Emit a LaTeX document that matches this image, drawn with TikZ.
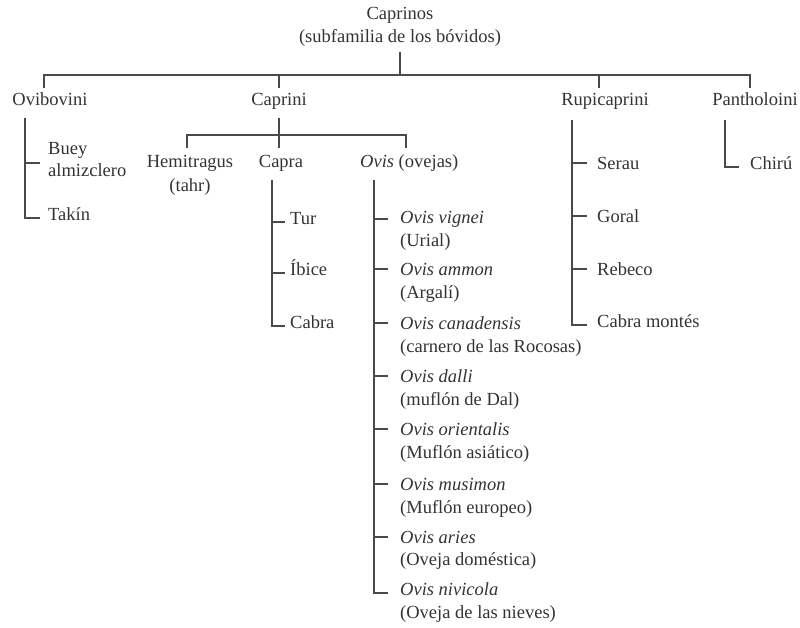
\documentclass[tikz,border=0pt]{standalone}
\usepackage{fontspec}
\setmainfont{Liberation Serif}
\definecolor{txt}{HTML}{333333}
\definecolor{lnc}{HTML}{4A4A4A}
\newcommand\myfs{\fontsize{18.5}{23}\selectfont}
\tikzset{
  lbl/.style={inner sep=0pt, anchor=mid, text=txt, font=\myfs},
  lw/.style={lbl, anchor=mid west},
  ln/.style={draw=lnc, line width=1.6pt},
}
\begin{document}
\begin{tikzpicture}[x=1pt,y=-1pt]
\useasboundingbox (0,0) rectangle (800,628);
% root
\node[lbl] (root) at (400,17) {Caprinos};
\node[lbl] (root2) at (400,40) {(subfamilia de los bóvidos)};
% level 1
\node[lbl] (ovib) at (50,103) {Ovibovini};
\node[lbl] (capr) at (279,103) {Caprini};
\node[lbl] (rupi) at (605,103) {Rupicaprini};
\node[lbl] (panth) at (755,103) {Pantholoini};
\coordinate (bar) at (400,75);
\draw[ln] (400,52) -- (bar);
\draw[ln] (44,88) -- (44,75) -- (750,75) -- (750,88);
\draw[ln] (279,75) -- (279,88);
\draw[ln] (599,75) -- (599,88);
% Ovibovini
\node[lw] (buey) at (48,152) {Buey};
\node[lw] (buey2) at (48,174) {almizclero};
\node[lw] (takin) at (48,218) {Takín};
\draw[ln] (25,118) -- (25,218) -- (40,218);
\draw[ln] (25,163) -- (40,163);
% Caprini
\draw[ln] (279,118) -- (279,148);
\draw[ln] (187,148) -- (187,135) -- (406,135) -- (406,148);
\node[lbl] (hemi) at (190,165) {Hemitragus};
\node[lbl] (hemi2) at (190,189) {(tahr)};
\node[lbl] (capra) at (281,165) {Capra};
\node[lw] (ovis) at (360,165) {\textit{Ovis} (ovejas)};
% Capra children
\node[lw] (tur) at (290,222) {Tur};
\node[lw] (ibice) at (290,273) {Íbice};
\node[lw] (cabra) at (290,326) {Cabra};
\draw[ln] (272,180) -- (272,326) -- (285,326);
\draw[ln] (272,222) -- (285,222);
\draw[ln] (272,273) -- (285,273);
% Ovis children
\node[lw] (o1) at (400,221) {\textit{Ovis vignei}};
\node[lw] (o1b) at (400,244) {(Urial)};
\node[lw] (o2) at (400,273) {\textit{Ovis ammon}};
\node[lw] (o2b) at (400,296) {(Argalí)};
\node[lw] (o3) at (400,327) {\textit{Ovis canadensis}};
\node[lw] (o3b) at (400,350) {(carnero de las Rocosas)};
\node[lw] (o4) at (400,380) {\textit{Ovis dalli}};
\node[lw] (o4b) at (400,403) {(muflón de Dal)};
\node[lw] (o5) at (400,433) {\textit{Ovis orientalis}};
\node[lw] (o5b) at (400,456) {(Muflón asiático)};
\node[lw] (o6) at (400,488) {\textit{Ovis musimon}};
\node[lw] (o6b) at (400,511) {(Muflón europeo)};
\node[lw] (o7) at (400,541) {\textit{Ovis aries}};
\node[lw] (o7b) at (400,563) {(Oveja doméstica)};
\node[lw] (o8) at (400,593) {\textit{Ovis nivicola}};
\node[lw] (o8b) at (400,616) {(Oveja de las nieves)};
\draw[ln] (374,180) -- (374,593) -- (388,593);
\foreach \n in {o1,o2,o3,o4,o5,o6,o7}
  \draw[ln] (374,0 |- \n.west) -- ([xshift=-12pt]\n.west);
% Rupicaprini
\node[lw] (serau) at (597,167) {Serau};
\node[lw] (goral) at (597,220) {Goral};
\node[lw] (rebeco) at (597,273) {Rebeco};
\node[lw] (cmontes) at (597,325) {Cabra montés};
\draw[ln] (572,120) -- (572,325) -- (587,325);
\foreach \n in {serau,goral,rebeco}
  \draw[ln] (572,0 |- \n.west) -- ([xshift=-10pt]\n.west);
% Pantholoini
\node[lw] (chiru) at (750,167) {Chirú};
\draw[ln] (725,120) -- (725,167) -- (739,167);
\end{tikzpicture}
\end{document}
